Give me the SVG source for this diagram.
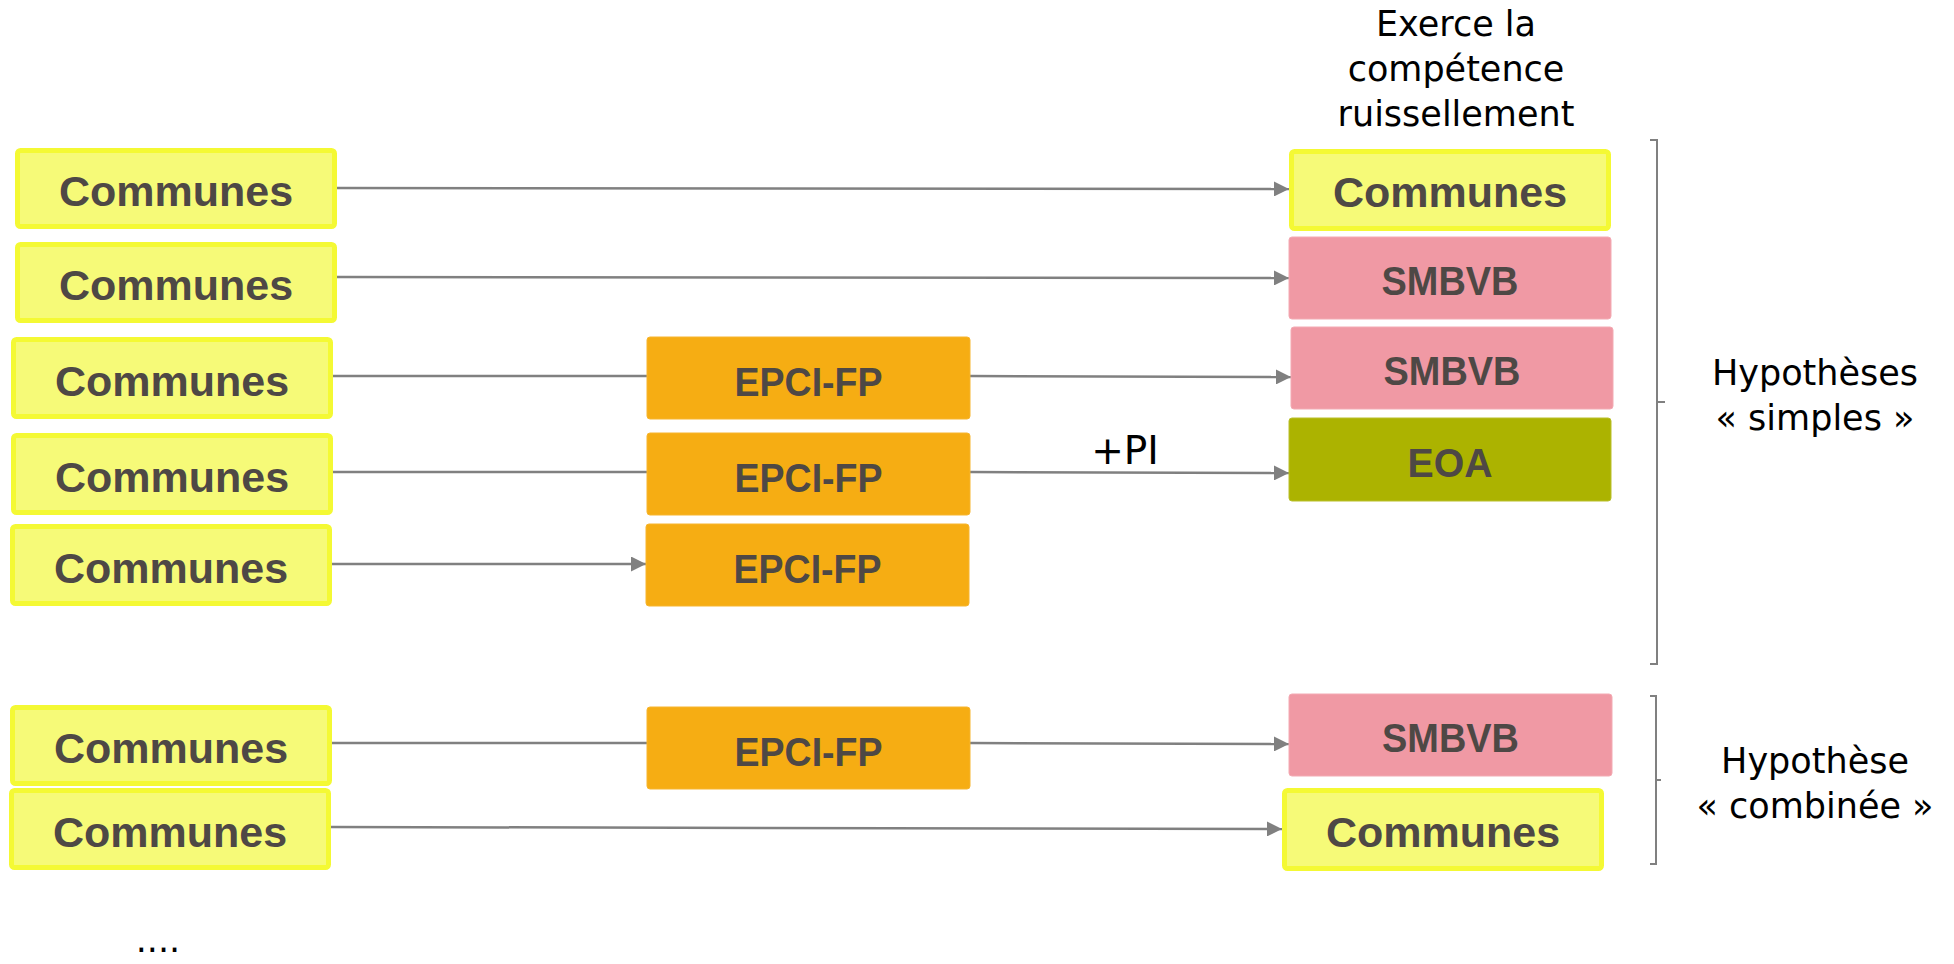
<svg xmlns="http://www.w3.org/2000/svg" width="1954" height="964" viewBox="0 0 1954 964">
<style>
.com rect{fill:#f6fa78;stroke:#f4f934;stroke-width:5}
.smb rect{fill:#f099a4;stroke:#f3aab3;stroke-width:1}
.eoa rect{fill:#acb300;stroke:#b9bf2a;stroke-width:1}
.epci rect{fill:#f6ad13;stroke:#f7b52e;stroke-width:1}
.lbl{font-family:"Liberation Sans",Arial,sans-serif;font-weight:bold;fill:#4e4845;text-anchor:middle}
.c{font-size:43px}
.s{font-size:40px}
.t{font-family:"DejaVu Sans",sans-serif;fill:#000;font-size:35px;text-anchor:middle}
.conn line{stroke:#808080;stroke-width:2.5;fill:none}
.br path{stroke:#808080;stroke-width:2;fill:none}
</style>
<defs>
<marker id="ah" markerUnits="userSpaceOnUse" markerWidth="15" markerHeight="15" refX="15" refY="7.5" orient="auto">
<path d="M0,0 L15,7.5 L0,15 Z" fill="#808080"/>
</marker>
</defs>
<rect width="1954" height="964" fill="#fff"/>

<g id="connectors" class="conn">
<line x1="337" y1="188" x2="1289" y2="189" marker-end="url(#ah)"/>
<line x1="337" y1="277" x2="1289" y2="278" marker-end="url(#ah)"/>
<line x1="333" y1="376" x2="647" y2="376"/>
<line x1="970" y1="376" x2="1291" y2="377" marker-end="url(#ah)"/>
<line x1="333" y1="472" x2="647" y2="472"/>
<line x1="970" y1="472" x2="1289" y2="473" marker-end="url(#ah)"/>
<line x1="332" y1="564" x2="646" y2="564" marker-end="url(#ah)"/>
<line x1="332" y1="743" x2="647" y2="743"/>
<line x1="970" y1="743" x2="1289" y2="744" marker-end="url(#ah)"/>
<line x1="331" y1="827" x2="1282" y2="829" marker-end="url(#ah)"/>
</g>

<g id="left-communes-1" class="com"><rect x="17.5" y="150.5" width="317" height="76" rx="3"/><text class="lbl c" x="176" y="206">Communes</text></g>
<g id="left-communes-2" class="com"><rect x="17.5" y="244.5" width="317" height="76" rx="3"/><text class="lbl c" x="176" y="300">Communes</text></g>
<g id="left-communes-3" class="com"><rect x="13.5" y="339.5" width="317" height="77" rx="3"/><text class="lbl c" x="172" y="396">Communes</text></g>
<g id="left-communes-4" class="com"><rect x="13.5" y="435.5" width="317" height="77" rx="3"/><text class="lbl c" x="172" y="492">Communes</text></g>
<g id="left-communes-5" class="com"><rect x="12.5" y="526.5" width="317" height="77" rx="3"/><text class="lbl c" x="171" y="583">Communes</text></g>
<g id="left-communes-6" class="com"><rect x="12.5" y="707.5" width="317" height="76" rx="3"/><text class="lbl c" x="171" y="763">Communes</text></g>
<g id="left-communes-7" class="com"><rect x="11.5" y="790.5" width="317" height="77" rx="3"/><text class="lbl c" x="170" y="847">Communes</text></g>

<g id="epci-1" class="epci"><rect x="647" y="337" width="323" height="82" rx="3"/><text class="lbl s" x="808.5" y="396" textLength="148" lengthAdjust="spacingAndGlyphs">EPCI-FP</text></g>
<g id="epci-2" class="epci"><rect x="647" y="433" width="323" height="82" rx="3"/><text class="lbl s" x="808.5" y="492" textLength="148" lengthAdjust="spacingAndGlyphs">EPCI-FP</text></g>
<g id="epci-3" class="epci"><rect x="646" y="524" width="323" height="82" rx="3"/><text class="lbl s" x="807.5" y="583" textLength="148" lengthAdjust="spacingAndGlyphs">EPCI-FP</text></g>
<g id="epci-4" class="epci"><rect x="647" y="707" width="323" height="82" rx="3"/><text class="lbl s" x="808.5" y="766" textLength="148" lengthAdjust="spacingAndGlyphs">EPCI-FP</text></g>

<g id="right-communes-1" class="com"><rect x="1291.5" y="151.5" width="317" height="77" rx="3"/><text class="lbl c" x="1450" y="207">Communes</text></g>
<g id="smbvb-1" class="smb"><rect x="1289" y="237" width="322" height="82" rx="3"/><text class="lbl s" x="1450" y="295" textLength="137" lengthAdjust="spacingAndGlyphs">SMBVB</text></g>
<g id="smbvb-2" class="smb"><rect x="1291" y="327" width="322" height="82" rx="3"/><text class="lbl s" x="1452" y="385" textLength="137" lengthAdjust="spacingAndGlyphs">SMBVB</text></g>
<g id="eoa" class="eoa"><rect x="1289" y="418" width="322" height="83" rx="3"/><text class="lbl s" x="1450" y="477" textLength="85" lengthAdjust="spacingAndGlyphs">EOA</text></g>
<g id="smbvb-3" class="smb"><rect x="1289" y="694" width="323" height="82" rx="3"/><text class="lbl s" x="1450.5" y="752" textLength="137" lengthAdjust="spacingAndGlyphs">SMBVB</text></g>
<g id="right-communes-2" class="com"><rect x="1284.5" y="790.5" width="317" height="78" rx="3"/><text class="lbl c" x="1443" y="847">Communes</text></g>

<g id="header" class="t">
<text x="1456" y="36">Exerce la</text>
<text x="1456" y="81">compétence</text>
<text x="1456" y="126">ruissellement</text>
</g>
<text id="label-pi" class="t" x="1125" y="464" style="font-size:39px">+PI</text>

<g id="brackets" class="br">
<path d="M1650,140 H1657 V664 H1650 M1657,402 H1665"/>
<path d="M1650,696 H1656 V864 H1650 M1656,780 H1661"/>
</g>
<g id="hyp-simples" class="t">
<text x="1815" y="385">Hypothèses</text>
<text x="1815" y="430">« simples »</text>
</g>
<g id="hyp-combinee" class="t">
<text x="1815" y="773">Hypothèse</text>
<text x="1815" y="818">« combinée »</text>
</g>
<text id="dots" class="t" x="158" y="952">....</text>
</svg>
